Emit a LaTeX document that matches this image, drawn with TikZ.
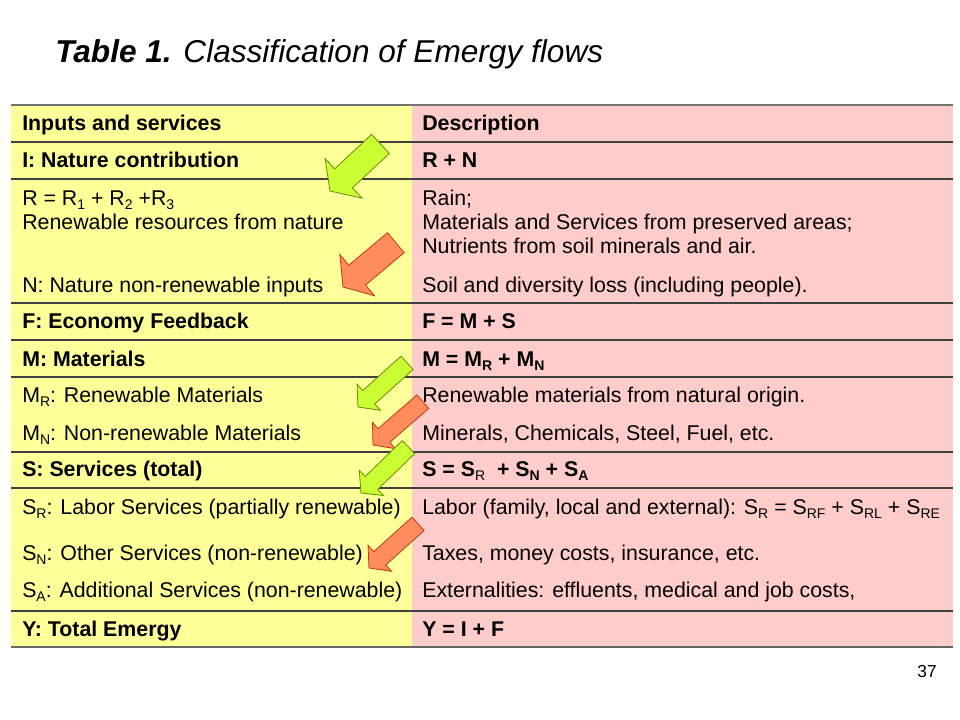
\documentclass[tikz,border=0pt]{standalone}
\usepackage{fontspec}
\setmainfont{Liberation Sans}
\usepackage{xcolor}

\definecolor{rowyellow}{HTML}{FFFF99}
\definecolor{rowpink}{HTML}{FFCCCC}
\definecolor{arrgreen}{HTML}{CCFF33}
\definecolor{arrgreenline}{HTML}{5F9000}
\definecolor{arrorange}{HTML}{FF8C5C}
\definecolor{arrorangeline}{HTML}{C03A10}

% subscripts as the slide sets them
\newcommand{\lowidx}[1]{\raisebox{-3pt}{\fontsize{10.5}{12}\selectfont #1}}

\begin{document}
\begin{tikzpicture}[
        x = 0.75pt, % one pixel of the slide
        y = -0.75pt,
        cell/.style = {anchor = base west, inner sep = 0pt, font = \fontsize{16}{19}\selectfont},
        headcell/.style = {cell, font = \fontsize{16}{19}\selectfont\bfseries},
        tablerule/.style = {black!75, line width = 0.9pt},
        % block arrows, tip at the origin, pointing along x
        big flow/.pic = {
            \path[pic actions] (0,0) -- (-18.5,27) -- (-18.5,13) -- (-69,13)
                -- (-69,-13) -- (-18.5,-13) -- (-18.5,-27) -- cycle;
        },
        small flow/.pic = {
            \path[pic actions] (0,0) -- (-14.5,17.5) -- (-14.5,9) -- (-66,9)
                -- (-66,-9) -- (-14.5,-9) -- (-14.5,-17.5) -- cycle;
        }
    ]

        \tikzstyle{renewable}=[fill = arrgreen, draw = arrgreenline, line width = 0.6pt, line join = miter]
        \tikzstyle{nonrenewable}=[fill = arrorange, draw = arrorangeline, line width = 0.6pt, line join = miter]

\useasboundingbox (0,0) rectangle (960,720);
\fill[white] (0,0) rectangle (960,720);

% title and page number
\node[anchor=base west, inner sep=0pt, font=\fontsize{23.7}{28}\selectfont\itshape] (title) at (55,63) {\textbf{Table 1.} Classification of Emergy flows};
\node[anchor=base east, inner sep=0pt, font=\fontsize{13}{15}\selectfont] (page) at (937,677) {37};

% table
\fill[rowyellow] (11,105) rectangle (412,647);
\fill[rowpink] (412,105) rectangle (953,647);
\foreach \y in {142,179,303,340,377,452,488,611}
    \draw[tablerule] (11,\y) -- (953,\y);
\draw[tablerule, black!55] (11,105) -- (953,105);
\draw[tablerule, black!60] (11,647) -- (953,647);

% left column
\node[headcell] (inputs) at (22,131) {Inputs and services};
\node[headcell] (I) at (22,168) {I: Nature contribution};
\node[cell] (R) at (22,206) {R = R\lowidx{1} + R\lowidx{2} +R\lowidx{3}};
\node[cell] (Rtxt) at (22,230) {Renewable resources from nature};
\node[cell] (N) at (22,292) {N: Nature non-renewable inputs};
\node[headcell] (F) at (22,328) {F: Economy Feedback};
\node[headcell] (M) at (22,366) {M: Materials};
\node[cell] (MR) at (22,402) {M\lowidx{R}: Renewable Materials};
\node[cell] (MN) at (22,440) {M\lowidx{N}: Non-renewable Materials};
\node[headcell] (S) at (22,476) {S: Services (total)};
\node[cell] (SR) at (22,514) {S\lowidx{R}: Labor Services (partially renewable)};
\node[cell] (SN) at (22,560) {S\lowidx{N}: Other Services (non-renewable)};
\node[cell] (SA) at (22,597) {S\lowidx{A}: Additional Services (non-renewable)};
\node[headcell] (Y) at (22,636) {Y: Total Emergy};

% right column
\node[headcell] (descr) at (422,131) {Description};
\node[headcell] (Ieq) at (422,168) {R + N};
\node[cell] (Rd1) at (422,206) {Rain;};
\node[cell] (Rd2) at (422,230) {Materials and Services from preserved areas;};
\node[cell] (Rd3) at (422,254) {Nutrients from soil minerals and air.};
\node[cell] (Nd) at (422,292) {Soil and diversity loss (including people).};
\node[headcell] (Feq) at (422,328) {F = M + S};
\node[headcell] (Meq) at (422,366) {M = M\lowidx{R} + M\lowidx{N}};
\node[cell] (MRd) at (422,402) {Renewable materials from natural origin.};
\node[cell] (MNd) at (422,440) {Minerals, Chemicals, Steel, Fuel, etc.};
\node[headcell] (Seq) at (422,476) {S = S\lowidx{\mdseries R}\ \ + S\lowidx{N} + S\lowidx{A}};
\node[cell] (SRd) at (422,514) {Labor (family, local and external): S\lowidx{R} = S\lowidx{RF} + S\lowidx{RL} + S\lowidx{RE}};
\node[cell] (SNd) at (422,560) {Taxes, money costs, insurance, etc.};
\node[cell] (SAd) at (422,597) {Externalities: effluents, medical and job costs,};
\node[headcell] (Yeq) at (422,636) {Y = I + F};

% flow arrows
\pic[renewable, rotate=223] (arrR) at (330,191) {big flow};
\pic[nonrenewable, rotate=220] (arrN) at (343,287) {big flow};
\pic[renewable, rotate=222] (arrMR) at (358,407) {small flow};
\pic[nonrenewable, rotate=221] (arrMN) at (373,445) {small flow};
\pic[renewable, rotate=224] (arrSR) at (361,493) {small flow};
\pic[nonrenewable, rotate=222] (arrSN) at (369,568) {small flow};
\end{tikzpicture}
\end{document}
